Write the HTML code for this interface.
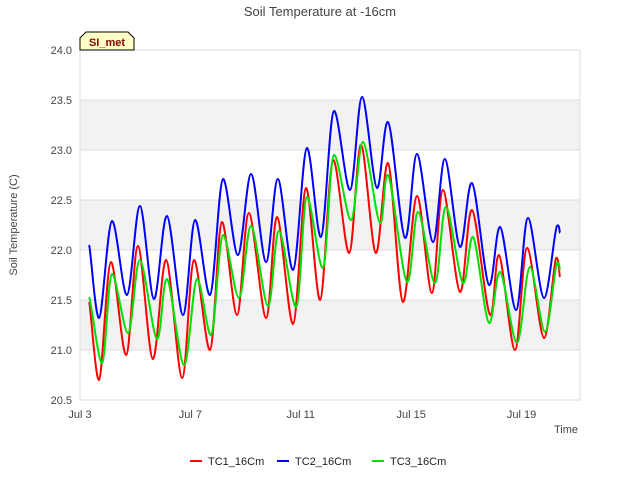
<!DOCTYPE html>
<html><head><meta charset="utf-8"><style>
body{margin:0;background:#fff;}
svg text{font-family:"Liberation Sans","DejaVu Sans",sans-serif;}
</style></head><body>
<svg id="chart" width="640" height="480" xmlns="http://www.w3.org/2000/svg">
<text x="320" y="16" text-anchor="middle" font-size="13" fill="#444">Soil Temperature at -16cm</text>
<g id="grid"></g>
<g id="series"></g>
<g id="axes"></g>
<text transform="translate(17,225) rotate(-90)" text-anchor="middle" font-size="11" fill="#444">Soil Temperature (C)</text>
<text x="566" y="433" text-anchor="middle" font-size="11" fill="#444">Time</text>
<g>
<path d="M80,50 L80,38 L86,32 L128,32 L134,38 L134,50 Z" fill="#ffffc8" stroke="#000" stroke-width="1"/>
<text x="107" y="46" text-anchor="middle" font-size="11" font-weight="bold" fill="#8b0000">SI_met</text>
</g>
<g id="legend"></g>
</svg>
<script>
const tc1Days=[3.33,3.69,4.12,4.67,5.10,5.64,6.12,6.70,7.13,7.71,8.14,8.69,9.12,9.74,10.14,10.72,11.19,11.70,12.17,12.75,13.18,13.72,14.16,14.70,15.21,15.75,16.15,16.77,17.20,17.86,18.18,18.76,19.20,19.81,20.25,20.39];
const tc1Vals=[21.48,20.70,21.88,20.95,22.04,20.91,21.90,20.72,21.90,21.00,22.28,21.35,22.37,21.32,22.33,21.26,22.62,21.50,22.90,21.97,23.05,21.97,22.87,21.48,22.54,21.57,22.60,21.58,22.40,21.35,21.95,21.00,22.02,21.12,21.92,21.73];
const tc2Days=[3.33,3.69,4.16,4.70,5.17,5.68,6.15,6.73,7.17,7.71,8.18,8.72,9.20,9.74,10.17,10.72,11.22,11.73,12.20,12.78,13.22,13.76,14.16,14.78,15.21,15.79,16.22,16.77,17.20,17.82,18.22,18.80,19.23,19.81,20.28,20.39];
const tc2Vals=[22.05,21.32,22.29,21.55,22.44,21.51,22.34,21.35,22.30,21.55,22.71,21.95,22.76,21.88,22.71,21.80,23.02,22.13,23.39,22.60,23.53,22.62,23.28,22.12,22.96,22.08,22.91,22.03,22.67,21.65,22.23,21.40,22.32,21.52,22.24,22.17];
const tc3Days=[3.33,3.80,4.16,4.74,5.17,5.79,6.15,6.77,7.24,7.75,8.18,8.76,9.20,9.81,10.21,10.83,11.22,11.80,12.20,12.82,13.25,13.87,14.16,14.85,15.25,15.86,16.26,16.88,17.24,17.82,18.22,18.83,19.30,19.85,20.28,20.39];
const tc3Vals=[21.53,20.87,21.76,21.17,21.90,21.11,21.71,20.85,21.71,21.15,22.15,21.52,22.24,21.44,22.19,21.43,22.53,21.82,22.95,22.30,23.08,22.27,22.75,21.68,22.38,21.67,22.43,21.67,22.13,21.27,21.78,21.07,21.83,21.18,21.87,21.80];
const yTicks=[20.5,21.0,21.5,22.0,22.5,23.0,23.5,24.0];
const xTickDays=[3,7,11,15,19];
const xTickLabels=["Jul 3","Jul 7","Jul 11","Jul 15","Jul 19"];
const seriesNames=["TC1_16Cm","TC2_16Cm","TC3_16Cm"];

const NS="http://www.w3.org/2000/svg";
const L=80,R=580,T=50,B=400,yMin=20.5,yMax=24,dMin=3,dPerPx=27.6;
function xs(d){return L+(d-dMin)*dPerPx;}
function ys(v){return B-(v-yMin)/(yMax-yMin)*(B-T);}
function mk(tag,attrs,parent){const e=document.createElementNS(NS,tag);for(const k in attrs)e.setAttribute(k,attrs[k]);parent.appendChild(e);return e;}
const grid=document.getElementById('grid'),axes=document.getElementById('axes'),ser=document.getElementById('series'),leg=document.getElementById('legend');
for(let i=0;i<yTicks.length-1;i++){
  if(i%2===1){const r=mk('rect',{x:L,y:ys(yTicks[i+1]),width:R-L,height:ys(yTicks[i])-ys(yTicks[i+1]),fill:'#f2f2f2'},grid);
  
  }
}
yTicks.forEach(v=>{
  const l=mk('line',{x1:L,x2:R,y1:ys(v),y2:ys(v),stroke:'#dcdcdc','stroke-width':1},grid);
  
  
  const t=mk('text',{x:L-8,y:ys(v)+4,'text-anchor':'end','font-size':11,fill:'#444'},axes);
  t.textContent=v.toFixed(1);
  
  
});
const fr=mk('rect',{x:L,y:T,width:R-L,height:B-T,fill:'none',stroke:'#dcdcdc'},axes);


xTickDays.forEach((d,i)=>{
  const t=mk('text',{x:xs(d),y:B+18,'text-anchor':'middle','font-size':11,fill:'#444'},axes);
  t.textContent=xTickLabels[i];
  
  
});
function smooth(pts){
  let d='M'+pts[0][0]+','+pts[0][1];
  for(let i=0;i<pts.length-1;i++){
    const p0=pts[Math.max(0,i-1)],p1=pts[i],p2=pts[i+1],p3=pts[Math.min(pts.length-1,i+2)];
    const k=0.16;
    const c1x=p1[0]+(p2[0]-p0[0])*k,c1y=p1[1]+(p2[1]-p0[1])*k*0.3;
    const c2x=p2[0]-(p3[0]-p1[0])*k,c2y=p2[1]-(p3[1]-p1[1])*k*0.3;
    d+=' C'+c1x+','+c1y+' '+c2x+','+c2y+' '+p2[0]+','+p2[1];
  }
  return d;
}
const colors=['#ff0000','#0000ff','#00e000'];
const allDays=[tc1Days,tc2Days,tc3Days],allVals=[tc1Vals,tc2Vals,tc3Vals];
[0,2,1].forEach(s=>{});
[0,1,2].forEach(s=>{
  const pts=allDays[s].map((d,i)=>[xs(d),ys(allVals[s][i])]);
  const p=mk('path',{d:smooth(pts),fill:'none',stroke:colors[s],'stroke-width':2,'stroke-linejoin':'round'},ser);
  
  
});
const legX=[190,277,372];
seriesNames.forEach((n,i)=>{
  const g=mk('g',{},leg);
  
  
  mk('line',{x1:legX[i],x2:legX[i]+12,y1:461,y2:461,stroke:colors[i],'stroke-width':2},g);
  const t=mk('text',{x:legX[i]+18,y:465,'font-size':11,fill:'#222'},g);
  t.textContent=n;
});
</script>
</body></html>
